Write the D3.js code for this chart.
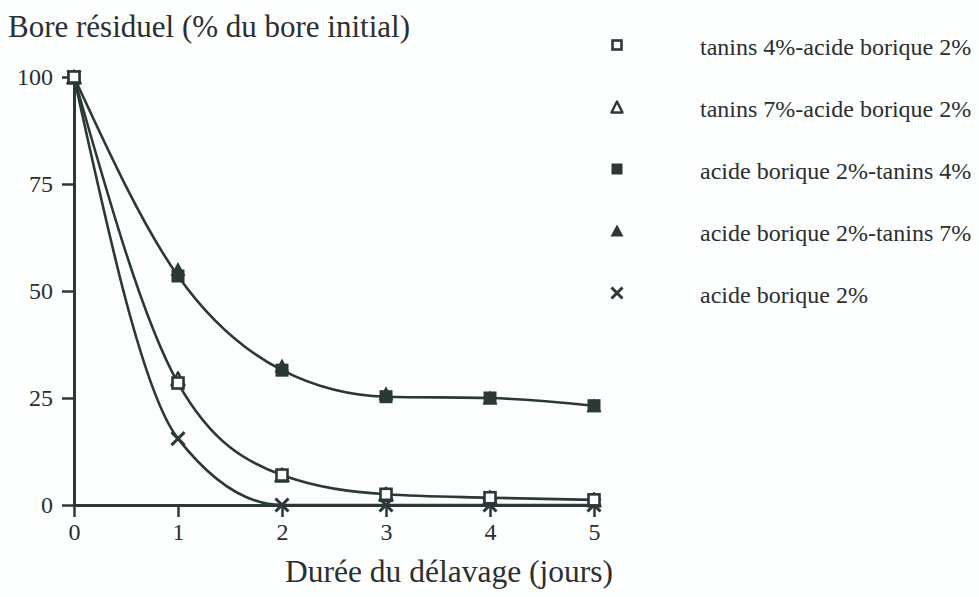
<!DOCTYPE html>
<html>
<head>
<meta charset="utf-8">
<script src="https://cdn.jsdelivr.net/npm/d3@7"></script>
<style>
  html, body { margin: 0; padding: 0; background: #fdfefe; }
  svg { display: block; }
  text { font-family: "Liberation Serif", "Times New Roman", Times, serif; fill: #2a2f2f; }
</style>
</head>
<body>
<svg id="chart" width="979" height="597"></svg>
<script>
// ---- data ----
const days = [0, 1, 2, 3, 4, 5];
const yTickValues = [0, 25, 50, 75, 100];
const seriesNames = [
  "tanins 4%-acide borique 2%",
  "tanins 7%-acide borique 2%",
  "acide borique 2%-tanins 4%",
  "acide borique 2%-tanins 7%",
  "acide borique 2%"
];
const tanins4Acide2 = [100, 28.5, 7.0, 2.5, 1.7, 1.2];
const tanins7Acide2 = [100, 29.5, 7.0, 2.5, 1.7, 1.2];
const acide2Tanins4 = [100, 53.5, 31.5, 25.3, 25.0, 23.2];
const acide2Tanins7 = [100, 55.0, 32.5, 26.0, 25.0, 23.2];
const acide2 = [100, 15.5, 0, 0, 0, 0];
const markerTypes = ["squareOpen", "triangleOpen", "squareFilled", "triangleFilled", "cross"];
// the figure shows one fitted curve per pair of overlapping series
const curveDrawn = [true, false, true, false, true];
const titleText = "Bore résiduel (% du bore initial)";
const xTitleText = "Durée du délavage (jours)";

const seriesValues = [tanins4Acide2, tanins7Acide2, acide2Tanins4, acide2Tanins7, acide2];
const series = seriesNames.map((name, i) => ({
  name, type: markerTypes[i], curve: curveDrawn[i],
  points: days.map((d, j) => ({ x: d, y: seriesValues[i][j] }))
}));

// ---- layout ----
const ink = "#2b3838";
const svg = d3.select("#chart");
const x = d3.scaleLinear().domain([0, 5]).range([74, 594]);
const y = d3.scaleLinear().domain([0, 100]).range([505, 77]);

// title
svg.append("text").attr("x", 8).attr("y", 37)
  .style("font-size", "31px").text(titleText);

// axes
const yAxis = svg.append("g").attr("transform", `translate(${x(0)},0)`)
  .call(d3.axisLeft(y).tickValues(yTickValues).tickFormat(d3.format("d"))
    .tickSize(12).tickSizeOuter(0).tickPadding(9));
const xAxis = svg.append("g").attr("transform", `translate(0,${y(0)})`)
  .call(d3.axisBottom(x).tickValues(days).tickFormat(d3.format("d"))
    .tickSize(12).tickSizeOuter(0).tickPadding(6));
[yAxis, xAxis].forEach(g => {
  g.selectAll("path.domain").attr("stroke", ink).attr("stroke-width", 3);
  g.selectAll(".tick line").attr("stroke", ink).attr("stroke-width", 2.5);
  g.selectAll(".tick text").style("font-size", "24px")
    .style("font-family", '"Liberation Serif", Times, serif').attr("fill", "#2a2f2f");
});

// x title
svg.append("text").attr("x", 285).attr("y", 582)
  .style("font-size", "31.5px").text(xTitleText);

// curves
const line = d3.line().x(d => x(d.x)).y(d => y(d.y)).curve(d3.curveMonotoneX);
svg.append("g").selectAll("path").data(series.filter(s => s.curve)).join("path")
  .attr("d", d => line(d.points))
  .attr("fill", "none").attr("stroke", ink).attr("stroke-width", 2.6);

// marker drawing
function drawMarker(g, type, size) {
  const h = size / 2;
  if (type === "squareOpen") {
    g.append("rect").attr("x", -h + 1).attr("y", -h + 1).attr("width", size - 2).attr("height", size - 2)
      .attr("fill", "#fff").attr("stroke", ink).attr("stroke-width", 2.6);
  } else if (type === "squareFilled") {
    g.append("rect").attr("x", -h).attr("y", -h).attr("width", size).attr("height", size)
      .attr("fill", ink);
  } else if (type === "triangleOpen") {
    g.append("path").attr("d", `M0,${-h}L${h},${h}L${-h},${h}Z`)
      .attr("fill", "#fff").attr("stroke", ink).attr("stroke-width", 2.4).attr("stroke-linejoin", "round");
  } else if (type === "triangleFilled") {
    g.append("path").attr("d", `M0,${-h - 1}L${h + 1},${h}L${-h - 1},${h}Z`)
      .attr("fill", ink);
  } else if (type === "cross") {
    g.append("path").attr("d", `M${-h},${-h}L${h},${h}M${h},${-h}L${-h},${h}`)
      .attr("stroke", ink).attr("stroke-width", 3).attr("fill", "none");
  }
}

// markers: draw in an order so the open square ends on top
const drawOrder = [4, 3, 2, 1, 0];
drawOrder.forEach(i => {
  const s = series[i];
  s.points.forEach(p => {
    const g = svg.append("g").attr("transform", `translate(${x(p.x)},${y(p.y)})`);
    drawMarker(g, s.type, 13);
  });
});

// legend
const legend = svg.append("g");
series.forEach((s, i) => {
  const cy = 45 + i * 62;
  const g = legend.append("g").attr("transform", `translate(617,${cy})`);
  drawMarker(g, s.type, 11);
  legend.append("text").attr("x", 700).attr("y", cy + 10)
    .style("font-size", "24px").text(s.name);
});
</script>
</body>
</html>
